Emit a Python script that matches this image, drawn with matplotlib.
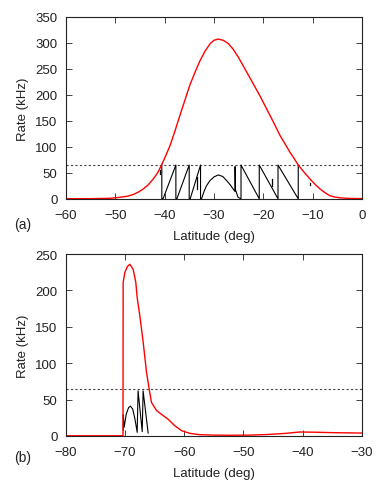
import numpy as np
import matplotlib
matplotlib.use("Agg")
import matplotlib.pyplot as plt

plt.rcParams['font.family'] = ['Liberation Sans', 'DejaVu Sans']

# ---------------- data: panel (a) ----------------
a_red_lat = [-60, -55, -51, -49, -47.5, -46.4, -45.3, -44.3, -43.3, -42.3, -41.4, -40.6,
             -39.8, -38.9, -37.9, -36.9, -35.9, -34.9, -33.8, -32.8, -31.8, -30.8, -30.0,
             -29.1, -28.1, -27.1, -26.1, -25.0, -24.0, -22.0, -20.6, -19.3, -17.9, -16.6,
             -15.6, -14.6, -13.7, -12.9, -11.7, -10.5, -9.5, -8.5, -7.5, -6.5, -5.5, -4.5,
             -3.0, -1.5, 0.0]
a_red_rate = [0.3, 0.3, 1, 3, 5, 8, 13, 19, 27, 38, 50, 65,
              82, 102, 130, 160, 189, 218, 244, 266, 284, 298, 305,
              307.5, 305, 299, 288, 272, 255, 221, 197, 173, 147, 122,
              106, 90, 77, 65, 51, 38, 28, 19, 12, 6, 3.5, 2,
              1, 0.6, 0.5]

a_blk_lat = [-40.55, -40.55, -40.3, -37.7, -37.7, -37.5, -35.0, -35.0, -34.8, -32.7, -32.7,
             -32.5, -32.0, -31.5, -30.8, -30.0, -29.1, -28.2, -27.4, -26.7, -26.1, -25.7,
             -25.7, -25.65, -25.1, -24.5, -24.5, -20.8, -20.8, -17.0, -17.0, -12.9, -12.9]
a_blk_rate = [65, 0, 0, 65, 0, 0, 65, 0, 0, 65, 0,
              0, 14, 25, 35, 42, 46, 43, 35, 27, 19, 14,
              62, 18, 3, 0, 65, 0, 65, 0, 65, 0, 65]

a_glitch_lat = [-40.9, -40.9, np.nan, -33.4, -33.4, np.nan, -18.3, -18.3, np.nan, -10.5, -10.5]
a_glitch_rate = [48, 56, np.nan, 19, 42, np.nan, 25, 38, np.nan, 27, 31]

# ---------------- data: panel (b) ----------------
b_red_lat = [-80, -70.35, -70.32, -70.03, -69.6, -69.19, -68.63, -68.18, -67.95, -67.5,
             -66.94, -66.37, -65.93, -65.53, -64.68, -63.56, -62.72, -61.59, -60.46,
             -59.05, -57.36, -55, -52, -49, -46, -43, -40.5, -38, -35, -30]
b_red_rate = [0.3, 0.3, 211, 225, 233, 236, 229, 211, 190, 165,
              129, 87.5, 64.5, 46, 35, 28, 23, 14, 7.3,
              3.6, 1.8, 1.2, 1, 1.2, 2, 3.5, 5.5, 5.2, 4.6, 4]

b_blk_lat = [-70.3, -70.3, -70.15, -69.8, -69.4, -69.1, -68.7, -68.3, -67.95, -67.8,
             -67.1, -66.95, -66.1]
b_blk_rate = [8, 29, 12, 30, 39, 41, 37, 22, 5, 62, 6, 62, 4]

threshold = 65

a_xticks = [-60, -50, -40, -30, -20, -10, 0]
a_yticks = [0, 50, 100, 150, 200, 250, 300, 350]
b_xticks = [-80, -70, -60, -50, -40, -30]
b_yticks = [0, 50, 100, 150, 200, 250]

# ---------------- figure ----------------
fig = plt.figure(figsize=(3.85, 4.85), dpi=100)
ax1 = fig.add_axes([0.171, 0.588, 0.769, 0.375])
ax2 = fig.add_axes([0.171, 0.099, 0.769, 0.375])

fs = 9.5

def style(ax, xt, yt):
    ax.set_xticks(xt)
    ax.set_yticks(yt)
    ax.set_xlim(xt[0], xt[-1])
    ax.set_ylim(yt[0], yt[-1])
    ax.tick_params(direction='in', top=True, right=True, length=4, width=0.6,
                   labelsize=fs, colors='#222222')
    ax.tick_params(axis='x', pad=7)
    ax.tick_params(axis='y', pad=6)
    for s in ax.spines.values():
        s.set_linewidth(0.8)
        s.set_color('#222222')
    ax.set_xlabel('Latitude (deg)', fontsize=fs, color='#222222', labelpad=7)
    ax.set_ylabel('Rate (kHz)', fontsize=fs, color='#222222')
    ax.yaxis.set_label_coords(-0.125, 0.5)

style(ax1, a_xticks, a_yticks)
style(ax2, b_xticks, b_yticks)

ax1.axhline(threshold, color='#444444', lw=0.8, ls=(0, (2, 2)))
ax1.plot(a_blk_lat, a_blk_rate, color='black', lw=0.8)
ax1.plot(a_glitch_lat, a_glitch_rate, color='black', lw=0.9)
ax1.plot(a_red_lat, a_red_rate, color='#ff0000', lw=1.0)

ax2.axhline(threshold, color='#444444', lw=0.8, ls=(0, (2, 2)))
ax2.plot(b_blk_lat, b_blk_rate, color='black', lw=0.8)
ax2.plot(b_red_lat, b_red_rate, color='#ff0000', lw=1.0)

fig.text(0.06, 1 - 225 / 485, '(a)', fontsize=fs + 0.5, ha='center', va='center', color='#222222')
fig.text(0.06, 1 - 458 / 485, '(b)', fontsize=fs + 0.5, ha='center', va='center', color='#222222')

fig.savefig('out.png', dpi=100)
